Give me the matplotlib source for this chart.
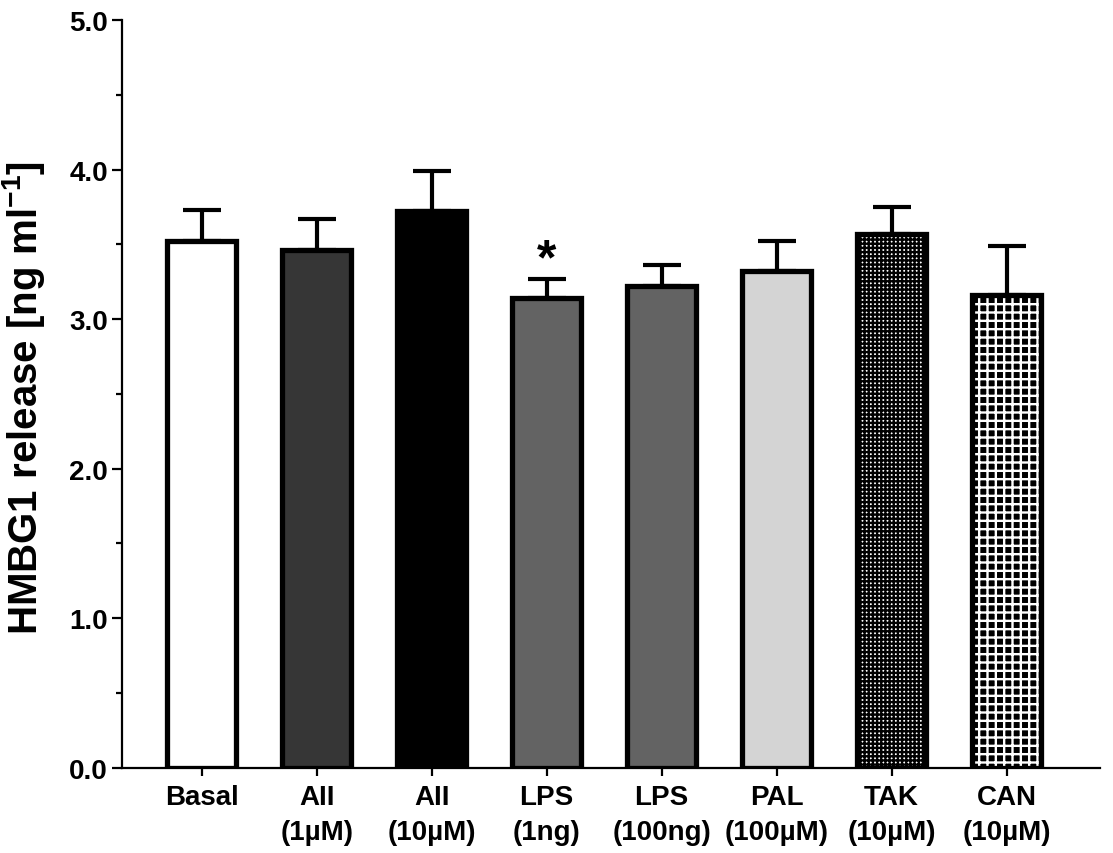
import numpy as np
import matplotlib
matplotlib.use('Agg')
import matplotlib.pyplot as plt

# Data
groups = ['Basal', 'AII\n(1\u00b5M)', 'AII\n(10\u00b5M)', 'LPS\n(1ng)', 'LPS\n(100ng)',
          'PAL\n(100\u00b5M)', 'TAK\n(10\u00b5M)', 'CAN\n(10\u00b5M)']
means = [3.52, 3.46, 3.72, 3.14, 3.22, 3.32, 3.57, 3.16]
sem = [0.21, 0.21, 0.27, 0.13, 0.14, 0.20, 0.18, 0.33]
significant = [False, False, False, True, False, False, False, False]

face_colors = ['white', '#363636', 'black', '#636363', '#636363', '#d4d4d4', 'white', 'black']
hatches = [None, None, None, None, None, None, '++++', '++']
hatch_colors = [None, None, None, None, None, None, 'black', 'white']

plt.rcParams['font.family'] = ['Liberation Sans', 'DejaVu Sans']
plt.rcParams['font.weight'] = 'bold'
plt.rcParams['mathtext.fontset'] = 'custom'
plt.rcParams['mathtext.rm'] = 'Liberation Sans:bold'
plt.rcParams['mathtext.bf'] = 'Liberation Sans:bold'
plt.rcParams['hatch.linewidth'] = 1.7

fig = plt.figure(figsize=(11.13, 8.54), dpi=100)
ax = fig.add_axes([0.1096, 0.1001, 0.8784, 0.8753])

x = np.arange(len(groups))
width = 0.6

# hatch fill layer (hatch colour comes from edgecolor, so draw it without a visible edge)
for i in range(len(groups)):
    if hatches[i] is not None:
        ax.bar(x[i], means[i], width, color=face_colors[i], edgecolor=hatch_colors[i],
               hatch=hatches[i], linewidth=0, zorder=2)

# outlined bars
ax.bar(x, means, width,
       color=[c if h is None else 'none' for c, h in zip(face_colors, hatches)],
       edgecolor='black', linewidth=3.8, zorder=3)

# upward-only error bars
ax.errorbar(x, means, yerr=[np.zeros(len(sem)), sem], fmt='none', ecolor='black',
            elinewidth=3.0, capsize=14, capthick=3.0, zorder=1)

for i in range(len(groups)):
    if significant[i]:
        ax.text(x[i], means[i] + sem[i] - 0.03, '*', ha='center', va='bottom',
                fontsize=36, fontweight='bold')

ax.set_ylim(0, 5.0)
ax.set_xlim(-0.693, 7.81)
ax.set_yticks(np.arange(0, 5.01, 1.0))
ax.set_yticks(np.arange(0.5, 5.0, 1.0), minor=True)
ax.set_yticklabels(['%.1f' % v for v in np.arange(0, 5.01, 1.0)], fontsize=20, fontweight='bold')
ax.set_xticks(x)
ax.set_xticklabels(groups, fontsize=20, fontweight='bold', linespacing=1.45, va='top')

ax.spines['top'].set_visible(False)
ax.spines['right'].set_visible(False)
ax.spines['left'].set_linewidth(1.6)
ax.spines['bottom'].set_linewidth(1.6)
ax.tick_params(axis='y', which='major', length=7, width=1.6, pad=3)
ax.tick_params(axis='y', which='minor', length=4, width=1.6)
ax.tick_params(axis='x', which='major', length=6, width=1.6, pad=6)

ax.set_ylabel('HMBG1 release [ng ml$^{-1}$]', fontsize=29, fontweight='bold')
ax.yaxis.set_label_coords(-0.077, 0.495)

fig.savefig('out.png', dpi=100)
